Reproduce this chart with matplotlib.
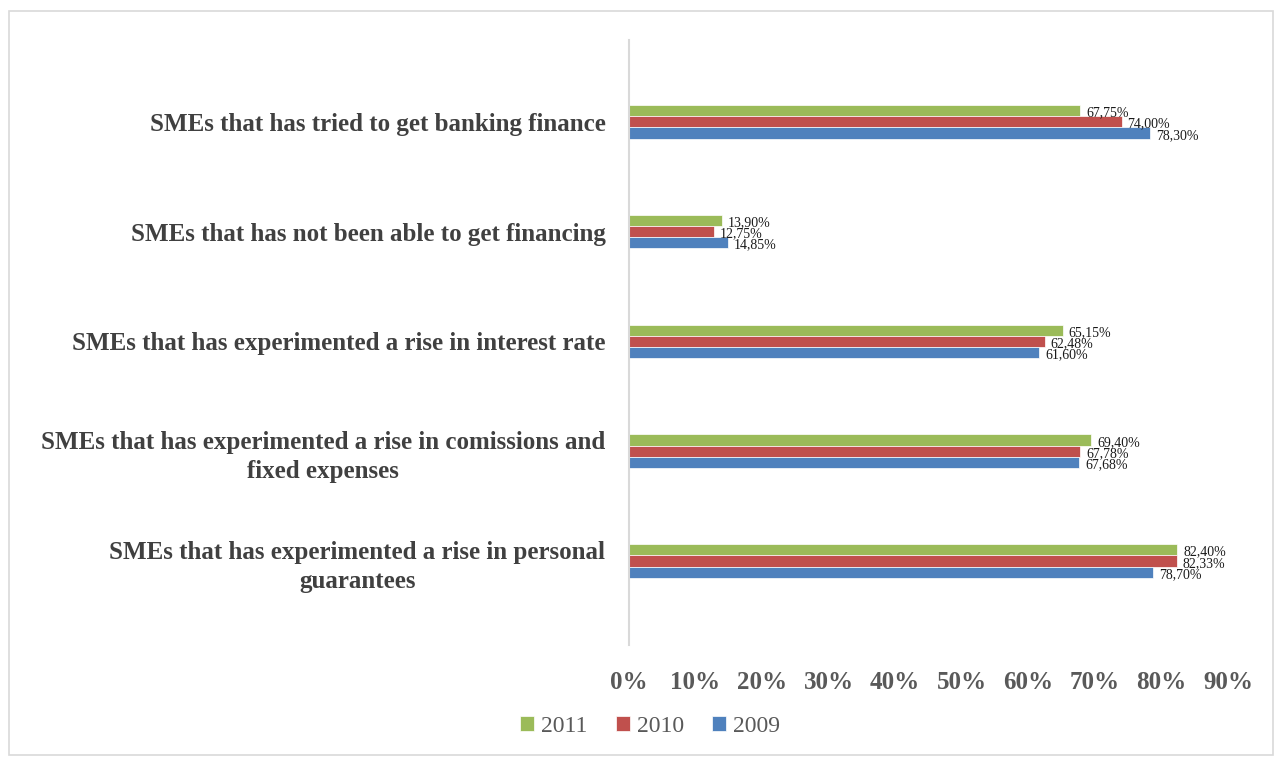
import matplotlib
matplotlib.use("Agg")
import matplotlib.pyplot as plt
from matplotlib.patches import Rectangle
import numpy as np

categories = [
    "SMEs that has tried to get banking finance",
    "SMEs that has not been able to get financing",
    "SMEs that has experimented a rise in interest rate",
    "SMEs that has experimented a rise in comissions and\nfixed expenses",
    "SMEs that has experimented a rise in personal\nguarantees",
]
series_names = ["2011", "2010", "2009"]
values_2011 = [67.75, 13.90, 65.15, 69.40, 82.40]
values_2010 = [74.00, 12.75, 62.48, 67.78, 82.33]
values_2009 = [78.30, 14.85, 61.60, 67.68, 78.70]
colors = ["#9BBB59", "#C0504D", "#4F81BD"]
xticks = [0, 10, 20, 30, 40, 50, 60, 70, 80, 90]

plt.rcParams["font.family"] = ["Liberation Serif", "DejaVu Serif"]

W, H = 1274, 758
fig = plt.figure(figsize=(W / 100, H / 100), dpi=100)
ax = fig.add_axes([629 / W, 1 - 645 / H, (1228 - 629) / W, (645 - 40) / H])

# outer chart frame
fig.patches.append(Rectangle((9 / W, 3 / H), (W - 10) / W, (H - 14) / H,
                             transform=fig.transFigure, fill=False,
                             edgecolor="#D9D9D9", linewidth=1.2))

y = np.arange(len(categories))
bh = 0.102
all_series = [values_2011, values_2010, values_2009]
offsets = [-bh, 0, bh]
handles = []
for vals, off, col, name in zip(all_series, offsets, colors, series_names):
    bars = ax.barh(y + off, vals, height=bh, color=col, label=name,
                   edgecolor="white", linewidth=0.5)
    handles.append(bars)
    for yi, v in zip(y + off, vals):
        ax.text(v + 0.9, yi + 0.02, f"{v:.2f}%".replace(".", ","),
                va="center", ha="left", fontsize=10, color="#1a1a1a")

ax.set_xlim(0, 90)
ax.set_ylim(4.764, -0.745)
ax.set_xticks(xticks)
ax.set_xticklabels([f"{t}%" for t in xticks], fontsize=18, fontweight="bold",
                   color="#595959")
ax.tick_params(axis="x", length=0, pad=19)
ax.set_yticks(y)
ax.set_yticklabels(categories, fontsize=18, fontweight="bold", color="#404040",
                   linespacing=1.35, multialignment="center")
ax.tick_params(axis="y", length=0, pad=17)
for s in ["top", "right", "bottom"]:
    ax.spines[s].set_visible(False)
ax.spines["left"].set_color("#D9D9D9")
ax.spines["left"].set_linewidth(1.5)

leg = fig.legend(handles=handles, labels=series_names, loc="center",
                 bbox_to_anchor=(650 / W, 1 - 726 / H), ncol=3, frameon=False,
                 fontsize=17, handlelength=0.6, handleheight=0.6,
                 handletextpad=0.3, columnspacing=1.2)
for t in leg.get_texts():
    t.set_color("#595959")

fig.savefig("out.png", dpi=100)
